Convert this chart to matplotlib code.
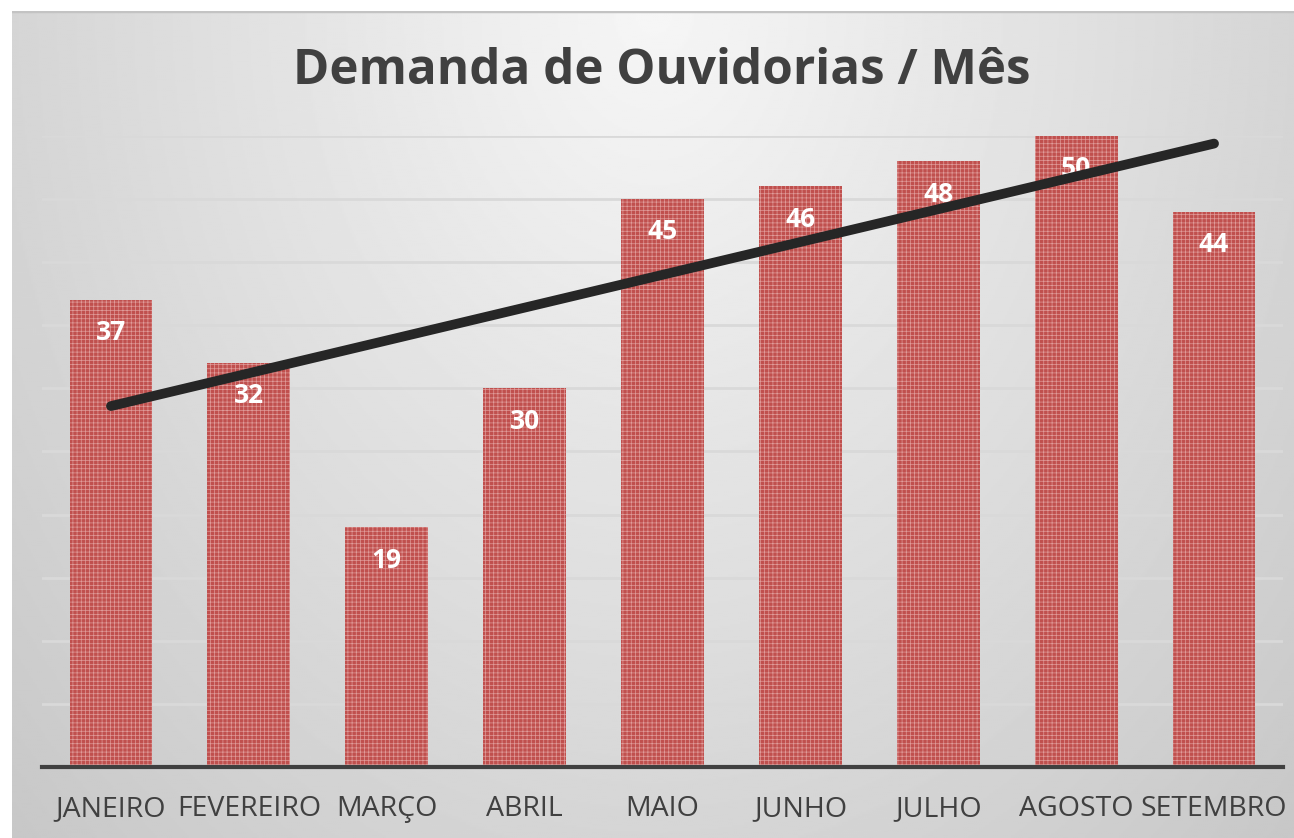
import numpy as np
import matplotlib.pyplot as plt
import matplotlib as mpl

# =========================================
# DATA
# =========================================
meses = ["JANEIRO", "FEVEREIRO", "MARÇO", "ABRIL", "MAIO",
         "JUNHO", "JULHO", "AGOSTO", "SETEMBRO"]
demandas = [37, 32, 19, 30, 45, 46, 48, 50, 44]
titulo = "Demanda de Ouvidorias / Mês"

# =========================================
# STYLE
# =========================================
W, H, DPI = 12.94, 8.38, 100
BAR_COLOR = "#c0504e"
HATCH_COLOR = "#e09c9a"
TEXT_COLOR = "#404040"
GRID_COLOR = "#d9d9d9"
mpl.rcParams["hatch.linewidth"] = 0.5
plt.rcParams["font.family"] = ["Open Sans", "DejaVu Sans"]

fig = plt.figure(figsize=(W, H), dpi=DPI)
fig.patch.set_facecolor("white")

# background panel with a soft radial gradient
px_left, px_top = 12, 11
bg = fig.add_axes([px_left / 1294, 0, 1 - px_left / 1294, 1 - px_top / 838], zorder=-10)
ny, nx = 400, 640
yy, xx = np.mgrid[0:ny, 0:nx]
dx = (xx - nx * 0.5) / (nx * 0.5)
dy = yy / ny
r = np.sqrt(dx ** 2 + dy ** 2)
shade = np.clip(0.965 - 0.13 * r, 0.785, 1.0)
bg.imshow(shade, cmap="gray", vmin=0, vmax=1, aspect="auto",
          extent=(0, 1, 0, 1), origin="upper")
bg.axhline(1, color="#c3c3c3", linewidth=2.5)
bg.set_xlim(0, 1)
bg.set_ylim(0, 1)
bg.axis("off")

# main axes
ax = fig.add_axes([42 / 1294, (838 - 767) / 838, (1283 - 42) / 1294, (767 - 136) / 838])
ax.set_facecolor("none")

x = np.arange(len(meses))
ax.bar(x, demandas, width=0.6, color=BAR_COLOR, edgecolor=HATCH_COLOR,
       linewidth=0, hatch="++++", zorder=2)

for xi, v in zip(x, demandas):
    ax.text(xi, v - 2.6, str(v), ha="center", va="center", color="white",
            fontsize=19, fontweight="bold", zorder=3)

# linear trendline
coef = np.polyfit(x, demandas, 1)
ax.plot([x[0], x[-1]], np.polyval(coef, [x[0], x[-1]]), color="#262626",
        linewidth=7, solid_capstyle="round", zorder=4)

ax.set_xlim(-0.5, len(meses) - 0.5)
ax.set_ylim(0, 50)
ax.set_yticks(np.arange(5, 51, 5))
ax.yaxis.grid(True, color=GRID_COLOR, linewidth=2)
ax.set_axisbelow(True)
ax.tick_params(axis="y", left=False, labelleft=False)
ax.tick_params(axis="x", bottom=False, labelsize=20.5, labelcolor=TEXT_COLOR, pad=17)
ax.set_xticks(x)
ax.set_xticklabels(meses)
for s in ["top", "right", "left"]:
    ax.spines[s].set_visible(False)
ax.spines["bottom"].set_color(TEXT_COLOR)
ax.spines["bottom"].set_linewidth(3)
ax.spines["bottom"].set_zorder(5)

fig.text(662 / 1294, 1 - 72 / 838, titulo, ha="center", va="center",
         fontsize=35.5, fontweight="bold", color=TEXT_COLOR)

fig.savefig("out.png", dpi=DPI)
